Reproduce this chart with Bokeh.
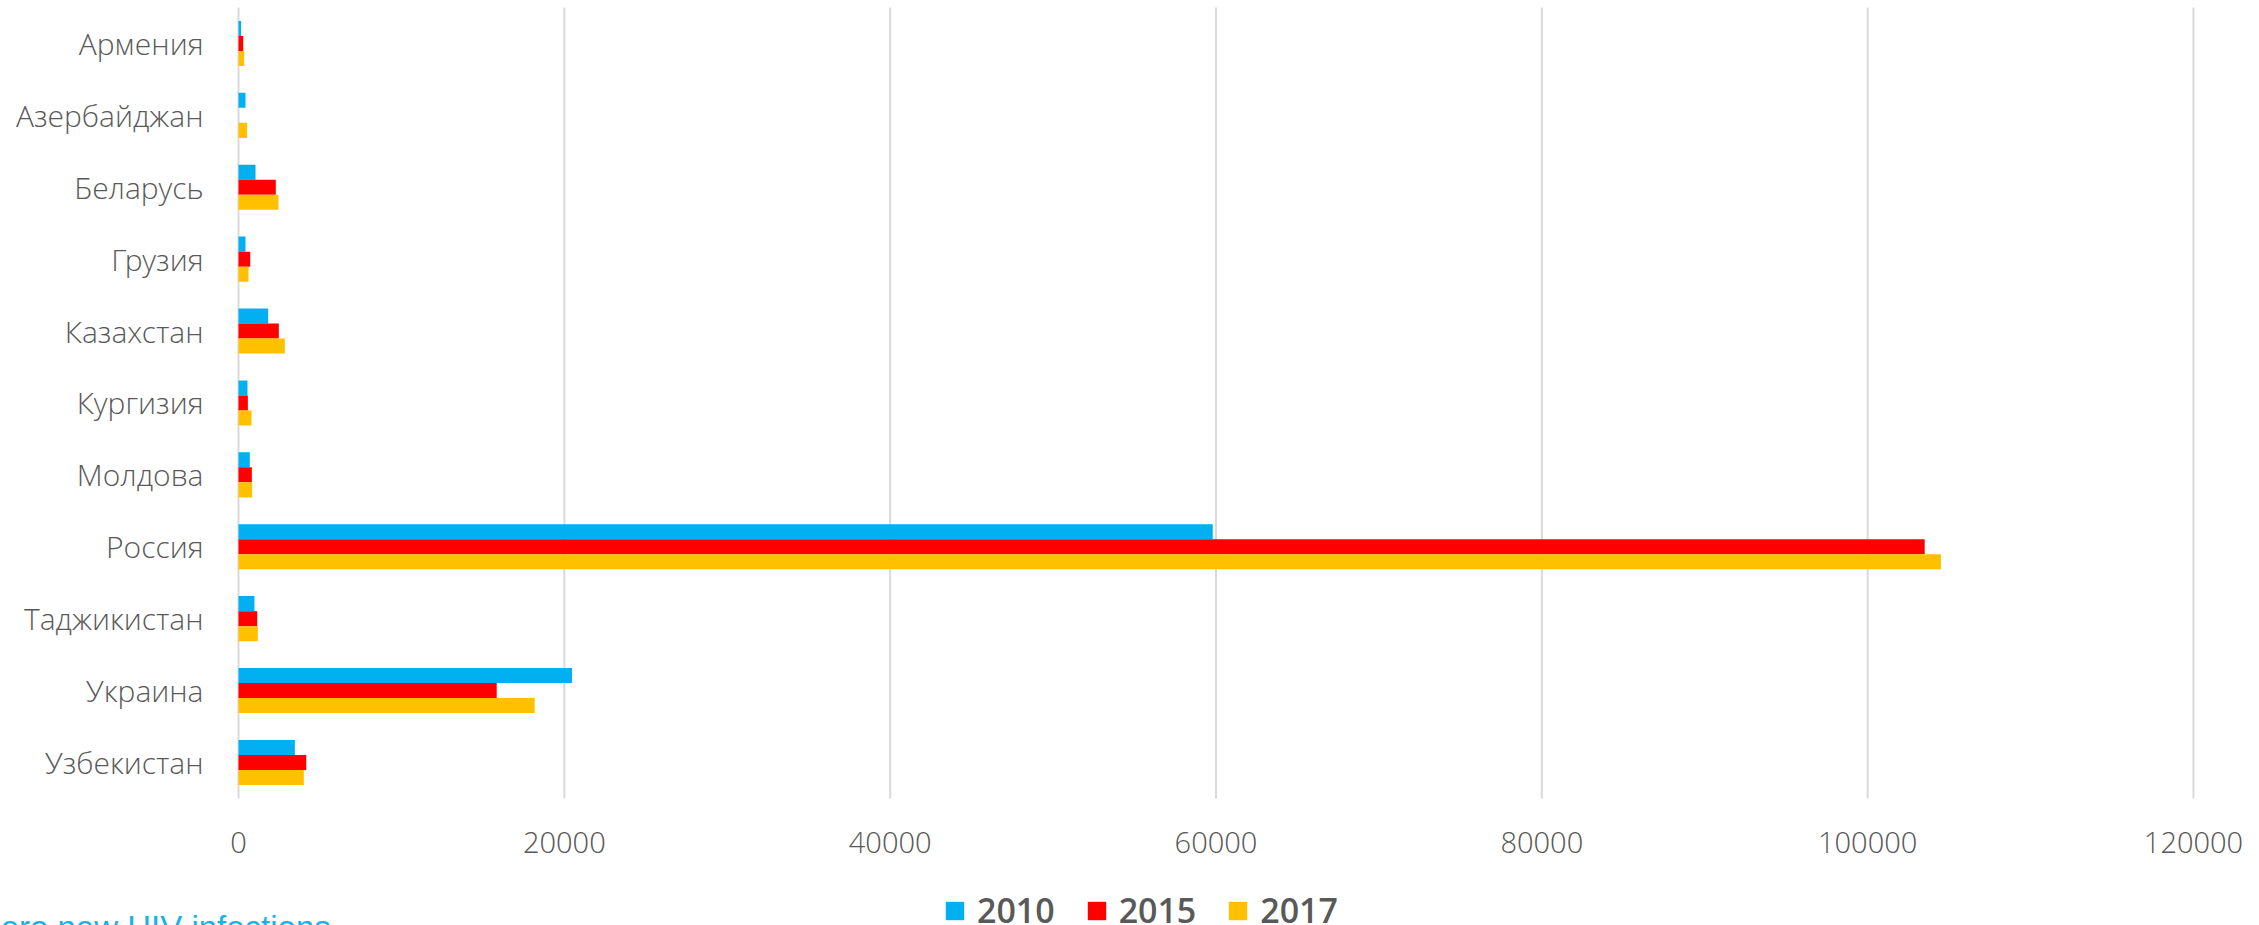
from bokeh.plotting import figure
from bokeh.models import ColumnDataSource, Range1d, Label, Legend, LegendItem
from bokeh.core.properties import value
from bokeh.embed import file_html
from bokeh.resources import INLINE

countries = ["Армения", "Азербайджан", "Беларусь", "Грузия", "Казахстан", "Кургизия",
             "Молдова", "Россия", "Таджикистан", "Украина", "Узбекистан"]
years = ["2010", "2015", "2017"]
v2010 = [160, 430, 1045, 430, 1820, 550, 695, 59800, 980, 20470, 3460]
v2015 = [290, 0, 2290, 720, 2475, 575, 820, 103500, 1150, 15850, 4160]
v2017 = [350, 530, 2455, 615, 2845, 800, 840, 104500, 1190, 18180, 4010]
colors = ["#00B0F0", "#FF0000", "#FFC000"]
xticks = [0, 20000, 40000, 60000, 80000, 100000, 120000]
footnote = "Zero new HIV infections"

W, H = 2259, 925
# layout in pixels
x0_px, xmax_px = 238, 2193          # pixel of 0 and of the last tick
top_px, band_px = 7, 71.9           # top of category area, height of one category band
sx = (xmax_px - x0_px) / xticks[-1]
n = len(countries)
ypos = [n - 1 - i for i in range(n)]   # first country on top

x_range = Range1d(-x0_px / sx, (W - x0_px) / sx)
y_top = n - 0.5 + top_px / band_px
y_range = Range1d(y_top - H / band_px, y_top)

p = figure(width=W, height=H, output_backend="svg", toolbar_location=None,
           x_range=x_range, y_range=y_range, x_axis_location=None, y_axis_location=None,
           min_border=0, min_border_left=0, min_border_right=0, min_border_top=0, min_border_bottom=0)
p.grid.visible = False
p.outline_line_color = None

# grid lines (incl. the zero line)
p.segment(x0=xticks, x1=xticks, y0=[-0.5] * len(xticks), y1=[n - 0.5] * len(xticks),
          line_color="#d9d9d9", line_width=2)

bar_h = 0.209
offsets = [bar_h, 0.0, -bar_h]
series = {"2010": v2010, "2015": v2015, "2017": v2017}
items = []
for yr, col, off in zip(years, colors, offsets):
    src = ColumnDataSource(dict(y=[v + off for v in ypos], right=series[yr]))
    r = p.hbar(y="y", right="right", left=0, height=bar_h, source=src,
               fill_color=col, line_color=None)
    items.append(LegendItem(label=yr, renderers=[r]))

label_font = value("Open Sans Light")
# category labels
p.text(x=[-(x0_px - 203) / sx] * n, y=ypos, text=countries, text_align="right",
       text_baseline="middle", text_font=label_font, text_font_size="30px", text_color="#595959")
# value tick labels
ylab = (n - 0.5) - (842 - top_px) / band_px
p.text(x=xticks, y=[ylab] * len(xticks), text=[str(t) for t in xticks], text_align="center",
       text_baseline="middle", text_font=label_font, text_font_size="29px", text_color="#595959")

lg = Legend(items=items, orientation="horizontal", location=(943, -8),
            border_line_color=None, background_fill_alpha=0, glyph_width=23, glyph_height=23,
            label_standoff=11, spacing=30, padding=0, margin=0,
            label_text_font="Open Sans Semibold", label_text_font_size="34px",
            label_text_color="#595959")
p.add_layout(lg, "center")

p.add_layout(Label(x=-20, y=-2, x_units="screen", y_units="screen", text=footnote,
                   text_font="Liberation Sans", text_font_size="33px", text_color="#1AB0EA",
                   text_baseline="alphabetic"))

open("out.html", "w").write(file_html(p, INLINE))
